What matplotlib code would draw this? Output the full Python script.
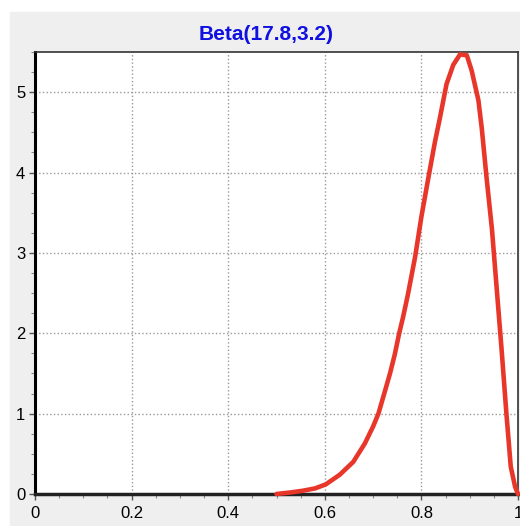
import matplotlib.pyplot as plt
from matplotlib.patches import Rectangle
from matplotlib.ticker import MultipleLocator

# points
x_vals = [0.500, 0.530, 0.554, 0.580, 0.602, 0.631, 0.659, 0.683, 0.700, 0.711,
          0.725, 0.735, 0.745, 0.754, 0.762, 0.772, 0.787, 0.800, 0.814, 0.828,
          0.838, 0.852, 0.866, 0.880, 0.894, 0.904, 0.918, 0.925, 0.935, 0.946,
          0.956, 0.966, 0.976, 0.985, 0.994, 1.000]
y_vals = [0.00, 0.02, 0.04, 0.07, 0.12, 0.24, 0.40, 0.63, 0.84, 1.00,
          1.29, 1.50, 1.74, 2.00, 2.20, 2.48, 2.95, 3.45, 3.92, 4.38,
          4.67, 5.10, 5.34, 5.47, 5.46, 5.27, 4.90, 4.55, 3.93, 3.30,
          2.55, 1.80, 1.00, 0.34, 0.09, 0.00]
x_ticks = [0, 0.2, 0.4, 0.6, 0.8, 1]
x_labels = ['0', '0.2', '0.4', '0.6', '0.8', '1']
y_ticks = [0, 1, 2, 3, 4, 5]

plt.rcParams['font.family'] = ['Liberation Sans', 'DejaVu Sans']

fig = plt.figure(figsize=(5.2, 5.26), dpi=100, facecolor='white')
fig.patches.append(Rectangle((10 / 520, 0), 1, (526 - 12) / 526,
                             transform=fig.transFigure, color='#efefef', zorder=-1))

ax = fig.add_axes([35 / 520, 32 / 526, 483 / 520, 442 / 526])
ax.set_facecolor('white')
ax.plot(x_vals, y_vals, color='#e8372a', linewidth=3.3, solid_joinstyle='round',
        solid_capstyle='round', clip_on=False, zorder=3)

ax.set_xlim(0, 1)
ax.set_ylim(0, 5.5)
ax.set_xticks(x_ticks)
ax.set_xticklabels(x_labels)
ax.set_yticks(y_ticks)
ax.xaxis.set_minor_locator(MultipleLocator(0.05))
ax.yaxis.set_minor_locator(MultipleLocator(0.25))
ax.tick_params(axis='both', which='major', length=4, width=1, color='#555555',
               labelsize=12, direction='out')
ax.tick_params(axis='both', which='minor', length=3, width=0.8, color='#888888',
               direction='out')
ax.tick_params(axis='x', pad=5)
ax.tick_params(axis='y', pad=3)

ax.grid(True, which='major', linestyle=':', color='#999999', linewidth=1)
ax.set_axisbelow(True)

ax.spines['left'].set_linewidth(2.2)
ax.spines['left'].set_color('black')
ax.spines['bottom'].set_linewidth(2.5)
ax.spines['bottom'].set_color('#222222')
ax.spines['top'].set_linewidth(1.2)
ax.spines['top'].set_color('#333333')
ax.spines['right'].set_linewidth(1.2)
ax.spines['right'].set_color('#333333')

ax.set_title('Beta(17.8,3.2)', color='#1010e0', fontweight='bold', fontsize=15,
             pad=9, x=0.478)

plt.savefig('out.png', dpi=100, facecolor=fig.get_facecolor())
